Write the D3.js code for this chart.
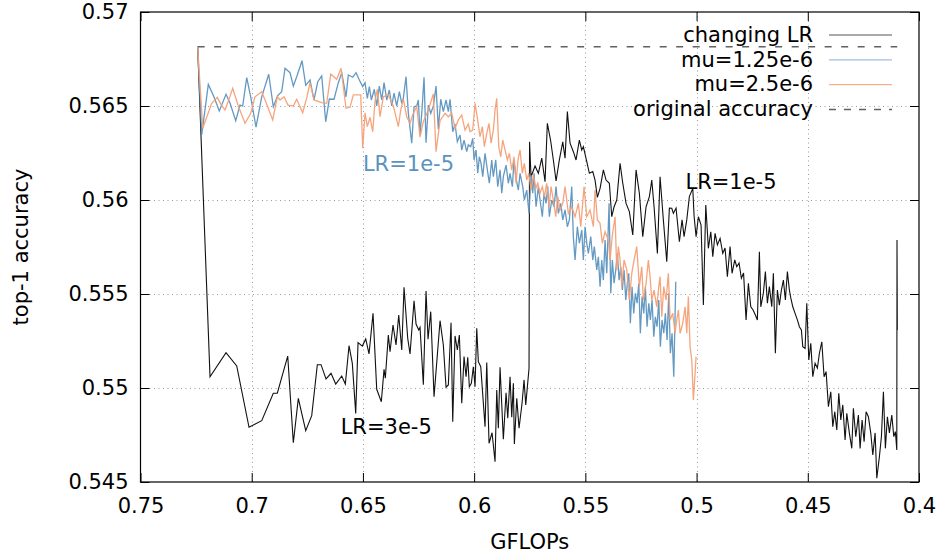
<!DOCTYPE html>
<html><head><meta charset="utf-8">
<script src="https://cdn.jsdelivr.net/npm/d3@7"></script>
<style>
html,body{margin:0;padding:0;background:#fff;}
svg{display:block;font-family:"DejaVu Sans",sans-serif;}
</style></head>
<body>
<svg id="chart" width="941" height="556"></svg>
<script>
// ---- data ----
const xTicks = [0.75, 0.7, 0.65, 0.6, 0.55, 0.5, 0.45, 0.4];
const xTickLabels = ["0.75", "0.7", "0.65", "0.6", "0.55", "0.5", "0.45", "0.4"];
const yTicks = [0.545, 0.55, 0.555, 0.56, 0.565, 0.57];
const yTickLabels = ["0.545", "0.55", "0.555", "0.56", "0.565", "0.57"];
const seriesNames = ["changing LR", "mu=1.25e-6", "mu=2.5e-6", "original accuracy"];
const originalAccuracy = 0.56815;
const originalRange = [0.7243, 0.4098];

const changingLR = [[0.7243,0.56815],[0.71875,0.55060],[0.71156,0.55188],[0.70674,0.55117],[0.70121,0.54791],[0.69550,0.54826],[0.69029,0.54972],[0.68849,0.54972],[0.68381,0.55170],[0.68129,0.54709],[0.67905,0.54945],[0.67572,0.54773],[0.67302,0.54853],[0.67050,0.55124],[0.66884,0.55124],[0.66659,0.55048],[0.66434,0.55078],[0.66223,0.55021],[0.65953,0.55064],[0.65791,0.55021],[0.65625,0.55225],[0.65477,0.55131],[0.65324,0.54865],[0.65220,0.55241],[0.65027,0.55223],[0.64874,0.55261],[0.64726,0.55181],[0.64546,0.55397],[0.64380,0.54993],[0.64173,0.54927],[0.64051,0.55099],[0.63993,0.55052],[0.63858,0.55282],[0.63782,0.55193],[0.63647,0.55335],[0.63512,0.55229],[0.63390,0.55388],[0.63255,0.55202],[0.63152,0.55536],[0.62986,0.55264],[0.62882,0.55181],[0.62702,0.55464],[0.62612,0.55340],[0.62491,0.55309],[0.62433,0.55323],[0.62284,0.55018],[0.62163,0.55516],[0.62073,0.55259],[0.61951,0.55406],[0.61803,0.54954],[0.61533,0.55358],[0.61385,0.55229],[0.61263,0.55004],[0.61160,0.55016],[0.61039,0.55347],[0.60962,0.54821],[0.60859,0.55277],[0.60755,0.55202],[0.60665,0.55282],[0.60557,0.54919],[0.60454,0.55167],[0.60364,0.55060],[0.60288,0.55163],[0.60216,0.55007],[0.60126,0.55025],[0.60036,0.55113],[0.59960,0.55007],[0.59883,0.55318],[0.59811,0.55140],[0.59703,0.55113],[0.59510,0.54794],[0.59433,0.55135],[0.59330,0.54706],[0.59195,0.54762],[0.59060,0.54608],[0.58984,0.54989],[0.58912,0.54786],[0.58835,0.55110],[0.58687,0.54727],[0.58565,0.54975],[0.58489,0.54839],[0.58386,0.55060],[0.58309,0.54844],[0.58237,0.55025],[0.58192,0.54702],[0.58084,0.54945],[0.57981,0.54786],[0.57846,0.54919],[0.57756,0.55043],[0.57680,0.54910],[0.57532,0.55105],[0.57509,0.56310],[0.57442,0.56124],[0.57262,0.56181],[0.57113,0.56142],[0.56960,0.56223],[0.56812,0.56097],[0.56709,0.56408],[0.56565,0.56319],[0.56439,0.56213],[0.56317,0.56101],[0.56169,0.56213],[0.56016,0.56309],[0.55913,0.56222],[0.55809,0.56470],[0.55688,0.56302],[0.55539,0.56257],[0.55418,0.56213],[0.55270,0.56319],[0.55162,0.56266],[0.55090,0.56284],[0.54937,0.56204],[0.54820,0.56142],[0.54667,0.56151],[0.54564,0.56106],[0.54460,0.56014],[0.54338,0.56062],[0.54190,0.56160],[0.54069,0.56106],[0.53921,0.56089],[0.53813,0.55911],[0.53709,0.55964],[0.53588,0.56000],[0.53440,0.56195],[0.53318,0.56089],[0.53170,0.55982],[0.53022,0.55938],[0.52869,0.55814],[0.52720,0.56160],[0.52572,0.56036],[0.52419,0.55805],[0.52271,0.55964],[0.52122,0.56018],[0.52014,0.56106],[0.51911,0.55964],[0.51762,0.55716],[0.51641,0.56124],[0.51493,0.55894],[0.51340,0.55672],[0.51222,0.55957],[0.51115,0.55956],[0.51043,0.55929],[0.50922,0.55957],[0.50773,0.55778],[0.50652,0.55894],[0.50562,0.55805],[0.50441,0.55894],[0.50324,0.56018],[0.50171,0.56062],[0.50112,0.55915],[0.50022,0.55805],[0.49919,0.55911],[0.49798,0.55867],[0.49694,0.55441],[0.49586,0.55973],[0.49470,0.55743],[0.49361,0.55831],[0.49271,0.55698],[0.49168,0.55823],[0.49065,0.55761],[0.48943,0.55796],[0.48822,0.55716],[0.48719,0.55745],[0.48615,0.55592],[0.48494,0.55752],[0.48404,0.55610],[0.48283,0.55681],[0.48193,0.55645],[0.48090,0.55665],[0.47986,0.55584],[0.47887,0.55612],[0.47775,0.55362],[0.47671,0.55557],[0.47563,0.55432],[0.47460,0.55415],[0.47357,0.55388],[0.47267,0.55362],[0.47176,0.55725],[0.47113,0.55432],[0.46997,0.55504],[0.46906,0.55619],[0.46816,0.55451],[0.46727,0.55539],[0.46619,0.55432],[0.46547,0.55610],[0.46457,0.55185],[0.46367,0.55521],[0.46277,0.55441],[0.46187,0.55521],[0.46097,0.55574],[0.46007,0.55468],[0.45917,0.55619],[0.45827,0.55521],[0.45764,0.55479],[0.45674,0.55432],[0.45571,0.55397],[0.45468,0.55362],[0.45378,0.55326],[0.45288,0.55309],[0.45225,0.55220],[0.45121,0.55211],[0.45045,0.55451],[0.44955,0.55149],[0.44865,0.55238],[0.44775,0.55060],[0.44672,0.55131],[0.44568,0.55106],[0.44478,0.55185],[0.44370,0.55246],[0.44267,0.55060],[0.44177,0.55087],[0.44073,0.54901],[0.43966,0.54980],[0.43876,0.54794],[0.43786,0.54874],[0.43696,0.54777],[0.43606,0.54972],[0.43516,0.54830],[0.43426,0.54910],[0.43323,0.54723],[0.43246,0.54865],[0.43129,0.54759],[0.43022,0.54679],[0.42950,0.54892],[0.42842,0.54741],[0.42725,0.54856],[0.42648,0.54679],[0.42558,0.54830],[0.42468,0.54714],[0.42378,0.54874],[0.42275,0.54847],[0.42167,0.54759],[0.42077,0.54644],[0.41973,0.54761],[0.41897,0.54520],[0.41780,0.54635],[0.41690,0.54741],[0.41600,0.54980],[0.41511,0.54679],[0.41421,0.54847],[0.41331,0.54761],[0.41223,0.54856],[0.41133,0.54741],[0.41061,0.54768],[0.40998,0.54670],[0.40989,0.55787],[0.40975,0.55309]];

const mu125 = [[0.7243,0.56815],[0.72248,0.56346],[0.71951,0.56615],[0.71695,0.56548],[0.71457,0.56473],[0.71156,0.56562],[0.70976,0.56516],[0.70719,0.56422],[0.70526,0.56505],[0.70405,0.56500],[0.70225,0.56651],[0.70045,0.56549],[0.69807,0.56387],[0.69550,0.56549],[0.69236,0.56669],[0.69029,0.56496],[0.68831,0.56555],[0.68651,0.56576],[0.68503,0.56701],[0.68278,0.56677],[0.68129,0.56606],[0.67977,0.56656],[0.67738,0.56741],[0.67572,0.56610],[0.67379,0.56638],[0.67199,0.56532],[0.67032,0.56629],[0.66853,0.56660],[0.66673,0.56416],[0.66511,0.56537],[0.66300,0.56536],[0.66106,0.56624],[0.65953,0.56677],[0.65760,0.56549],[0.65656,0.56665],[0.65459,0.56653],[0.65310,0.56677],[0.65162,0.56638],[0.65009,0.56603],[0.64906,0.56624],[0.64802,0.56541],[0.64712,0.56603],[0.64622,0.56532],[0.64487,0.56589],[0.64380,0.56500],[0.64263,0.56606],[0.64155,0.56532],[0.64051,0.56624],[0.63930,0.56532],[0.63813,0.56585],[0.63705,0.56500],[0.63602,0.56568],[0.63480,0.56500],[0.63363,0.56576],[0.63255,0.56514],[0.63184,0.56541],[0.63062,0.56656],[0.62958,0.56461],[0.62806,0.56302],[0.62702,0.56496],[0.62581,0.56500],[0.62509,0.56532],[0.62433,0.56346],[0.62343,0.56482],[0.62253,0.56653],[0.62163,0.56305],[0.62059,0.56505],[0.61951,0.56461],[0.61834,0.56500],[0.61713,0.56606],[0.61610,0.56376],[0.61502,0.56536],[0.61385,0.56470],[0.61263,0.56532],[0.61160,0.56470],[0.61084,0.56536],[0.60962,0.56363],[0.60859,0.56404],[0.60755,0.56310],[0.60634,0.56346],[0.60558,0.56266],[0.60454,0.56319],[0.60333,0.56257],[0.60261,0.56293],[0.60153,0.56284],[0.60063,0.56328],[0.60004,0.56213],[0.59915,0.56266],[0.59838,0.56142],[0.59766,0.56230],[0.59690,0.56195],[0.59613,0.56124],[0.59510,0.56248],[0.59406,0.56160],[0.59317,0.56089],[0.59209,0.56213],[0.59137,0.56124],[0.59029,0.56213],[0.58939,0.56071],[0.58835,0.56160],[0.58759,0.56036],[0.58687,0.56124],[0.58566,0.56186],[0.58462,0.56089],[0.58386,0.56142],[0.58282,0.56071],[0.58206,0.56213],[0.58116,0.56115],[0.58013,0.56053],[0.57936,0.56142],[0.57815,0.56071],[0.57743,0.56000],[0.57635,0.56053],[0.57532,0.55929],[0.57442,0.56133],[0.57365,0.56036],[0.57307,0.56142],[0.57217,0.55964],[0.57113,0.56071],[0.57037,0.56000],[0.56934,0.55911],[0.56857,0.56036],[0.56767,0.55982],[0.56691,0.56071],[0.56619,0.55911],[0.56511,0.56000],[0.56407,0.55964],[0.56317,0.56071],[0.56214,0.55929],[0.56106,0.55982],[0.56016,0.55894],[0.55913,0.55947],[0.55809,0.55858],[0.55719,0.55894],[0.55612,0.56071],[0.55540,0.55805],[0.55463,0.55681],[0.55360,0.55858],[0.55270,0.55770],[0.55162,0.55840],[0.55090,0.55681],[0.55013,0.55858],[0.54937,0.55770],[0.54865,0.55716],[0.54757,0.55805],[0.54667,0.55681],[0.54595,0.55752],[0.54487,0.55628],[0.54415,0.55698],[0.54339,0.55539],[0.54263,0.55681],[0.54191,0.55574],[0.54114,0.55787],[0.54038,0.55610],[0.53934,0.55982],[0.53858,0.55504],[0.53786,0.55681],[0.53710,0.55557],[0.53633,0.55628],[0.53561,0.55716],[0.53485,0.55574],[0.53408,0.55645],[0.53336,0.55521],[0.53260,0.55628],[0.53183,0.55468],[0.53112,0.55557],[0.53049,0.55610],[0.52977,0.55344],[0.52900,0.55539],[0.52824,0.55397],[0.52752,0.55504],[0.52675,0.55451],[0.52599,0.55557],[0.52527,0.55291],[0.52450,0.55486],[0.52374,0.55397],[0.52302,0.55539],[0.52226,0.55326],[0.52149,0.55451],[0.52077,0.55362],[0.52001,0.55468],[0.51924,0.55273],[0.51853,0.55379],[0.51776,0.55326],[0.51700,0.55468],[0.51628,0.55220],[0.51551,0.55362],[0.51475,0.55291],[0.51403,0.55397],[0.51326,0.55255],[0.51250,0.55504],[0.51178,0.55185],[0.51102,0.55291],[0.51025,0.55060],[0.50935,0.55565]];

const mu25 = [[0.7243,0.56815],[0.72203,0.56381],[0.71799,0.56514],[0.71547,0.56546],[0.71367,0.56505],[0.71200,0.56479],[0.71034,0.56532],[0.70854,0.56594],[0.70603,0.56500],[0.70301,0.56408],[0.70045,0.56461],[0.69852,0.56549],[0.69550,0.56576],[0.69312,0.56505],[0.69056,0.56426],[0.68849,0.56549],[0.68727,0.56532],[0.68548,0.56549],[0.68368,0.56505],[0.68130,0.56500],[0.67977,0.56536],[0.67707,0.56464],[0.67527,0.56543],[0.67379,0.56624],[0.67199,0.56532],[0.66853,0.56518],[0.66628,0.56514],[0.66448,0.56670],[0.66178,0.56642],[0.65985,0.56701],[0.65760,0.56488],[0.65580,0.56493],[0.65432,0.56559],[0.65207,0.56559],[0.65099,0.56559],[0.65009,0.56275],[0.64906,0.56464],[0.64802,0.56390],[0.64681,0.56440],[0.64559,0.56363],[0.64456,0.56528],[0.64353,0.56589],[0.64231,0.56443],[0.64083,0.56549],[0.63858,0.56559],[0.63633,0.56500],[0.63408,0.56390],[0.63300,0.56479],[0.63183,0.56536],[0.63031,0.56443],[0.62882,0.56408],[0.62734,0.56461],[0.62581,0.56496],[0.62432,0.56334],[0.62284,0.56417],[0.62059,0.56479],[0.61835,0.56564],[0.61713,0.56257],[0.61533,0.56422],[0.61308,0.56461],[0.61160,0.56443],[0.61007,0.56461],[0.60859,0.56381],[0.60710,0.56426],[0.60558,0.56452],[0.60409,0.56372],[0.60261,0.56404],[0.60184,0.56363],[0.60063,0.56372],[0.59960,0.56514],[0.59856,0.56435],[0.59735,0.56337],[0.59631,0.56390],[0.59541,0.56284],[0.59433,0.56355],[0.59330,0.56408],[0.59240,0.56302],[0.59137,0.56372],[0.59060,0.56479],[0.58984,0.56541],[0.58894,0.56284],[0.58804,0.56230],[0.58714,0.56319],[0.58610,0.56266],[0.58507,0.56213],[0.58417,0.56248],[0.58309,0.56160],[0.58206,0.56230],[0.58116,0.56089],[0.58026,0.56213],[0.57936,0.56266],[0.57833,0.56142],[0.57743,0.56195],[0.57635,0.56106],[0.57545,0.56142],[0.57442,0.56053],[0.57338,0.56133],[0.57230,0.56062],[0.57140,0.56089],[0.57037,0.56036],[0.56934,0.56071],[0.56844,0.56018],[0.56736,0.56089],[0.56632,0.55964],[0.56542,0.56071],[0.56439,0.56000],[0.56331,0.55911],[0.56241,0.56018],[0.56138,0.55947],[0.56016,0.55982],[0.55913,0.56071],[0.55764,0.55929],[0.55612,0.55964],[0.55463,0.55911],[0.55315,0.55982],[0.55207,0.55858],[0.55059,0.56071],[0.54937,0.55911],[0.54789,0.55947],[0.54640,0.55858],[0.54564,0.56053],[0.54460,0.55894],[0.54339,0.55876],[0.54236,0.55770],[0.54114,0.55831],[0.53966,0.55787],[0.53889,0.55681],[0.53786,0.55814],[0.53664,0.55911],[0.53588,0.55628],[0.53516,0.55752],[0.53440,0.55681],[0.53363,0.55539],[0.53260,0.55681],[0.53138,0.55628],[0.53022,0.55468],[0.52914,0.55610],[0.52810,0.55681],[0.52689,0.55752],[0.52572,0.55539],[0.52464,0.55645],[0.52392,0.55468],[0.52271,0.55557],[0.52167,0.55681],[0.52091,0.55592],[0.52014,0.55468],[0.51911,0.55521],[0.51790,0.55432],[0.51700,0.55539],[0.51641,0.55592],[0.51565,0.55379],[0.51475,0.55539],[0.51371,0.55468],[0.51268,0.55610],[0.51191,0.55362],[0.51070,0.55397],[0.50967,0.55291],[0.50890,0.55362],[0.50818,0.55415],[0.50742,0.55291],[0.50620,0.55344],[0.50517,0.55432],[0.50441,0.55291],[0.50369,0.55486],[0.50292,0.55220],[0.50216,0.55149],[0.50144,0.54936],[0.50067,0.55078],[0.50022,0.55167]];

// ---- layout ----
const plot = {left: 140.5, right: 919, top: 12, bottom: 482};
const FS = 21;
const colors = {black: "#111111", blue: "#5b93bf", orange: "#f4a077", dash: "#606060", grid: "#9a9a9a"};

const svg = d3.select("#chart");
const x = d3.scaleLinear().domain([xTicks[0], xTicks[xTicks.length - 1]]).range([plot.left, plot.right]);
const y = d3.scaleLinear().domain([yTicks[0], yTicks[yTicks.length - 1]]).range([plot.bottom, plot.top]);

// grid
const grid = svg.append("g").attr("stroke", colors.grid).attr("stroke-width", 1).attr("stroke-dasharray", "1,3.5");
grid.selectAll("line.gx").data(xTicks.slice(1, -1)).join("line")
  .attr("x1", d => Math.round(x(d)) + 0.5).attr("x2", d => Math.round(x(d)) + 0.5)
  .attr("y1", plot.top).attr("y2", plot.bottom);
grid.selectAll("line.gy").data(yTicks.slice(1, -1)).join("line")
  .attr("y1", d => Math.round(y(d)) + 0.5).attr("y2", d => Math.round(y(d)) + 0.5)
  .attr("x1", plot.left).attr("x2", plot.right);

// axes
const fmtX = d => xTickLabels[xTicks.indexOf(d)];
const fmtY = d => yTickLabels[yTicks.indexOf(d)];
function styleAxis(g) {
  g.select(".domain").remove();
  g.selectAll(".tick line").attr("stroke", "#000").attr("stroke-width", 1);
  g.selectAll(".tick text").attr("fill", "#000").style("font-size", FS + "px").style("font-family", "DejaVu Sans");
}
svg.append("g").attr("transform", `translate(0,${plot.bottom})`)
  .call(d3.axisBottom(x).tickValues(xTicks).tickFormat(fmtX).tickSizeInner(-9).tickSizeOuter(0).tickPadding(16))
  .call(styleAxis);
svg.append("g").attr("transform", `translate(0,${plot.top})`)
  .call(d3.axisTop(x).tickValues(xTicks).tickFormat("").tickSizeInner(-9).tickSizeOuter(0))
  .call(styleAxis);
svg.append("g").attr("transform", `translate(${plot.left},0)`)
  .call(d3.axisLeft(y).tickValues(yTicks).tickFormat(fmtY).tickSizeInner(-9).tickSizeOuter(0).tickPadding(12))
  .call(styleAxis);
svg.append("g").attr("transform", `translate(${plot.right},0)`)
  .call(d3.axisRight(y).tickValues(yTicks).tickFormat("").tickSizeInner(-9).tickSizeOuter(0))
  .call(styleAxis);

// border
svg.append("rect").attr("x", plot.left).attr("y", plot.top)
  .attr("width", plot.right - plot.left).attr("height", plot.bottom - plot.top)
  .attr("fill", "none").attr("stroke", "#000").attr("stroke-width", 1.2);

// axis titles
svg.append("text").attr("x", (plot.left + plot.right) / 2).attr("y", 549)
  .attr("text-anchor", "middle").style("font-size", FS + "px").text("GFLOPs");
svg.append("text").attr("transform", `translate(28,${(plot.top + plot.bottom) / 2}) rotate(-90)`)
  .attr("text-anchor", "middle").style("font-size", FS + "px").text("top-1 accuracy");

// lines
const line = d3.line().x(d => x(d[0])).y(d => y(d[1]));
const plotG = svg.append("g");
plotG.append("path").datum(originalRange.map(g => [g, originalAccuracy])).attr("d", line)
  .attr("fill", "none").attr("stroke", colors.dash).attr("stroke-width", 1.5).attr("stroke-dasharray", "7,9.5");
plotG.append("path").datum(changingLR).attr("d", line)
  .attr("fill", "none").attr("stroke", colors.black).attr("stroke-width", 1.1);
plotG.append("path").datum(mu125).attr("d", line)
  .attr("fill", "none").attr("stroke", colors.blue).attr("stroke-width", 1.3).attr("stroke-opacity", 0.95);
plotG.append("path").datum(mu25).attr("d", line)
  .attr("fill", "none").attr("stroke", colors.orange).attr("stroke-width", 1.3).attr("stroke-opacity", 0.95);

// annotations
svg.append("text").attr("x", x(0.65)).attr("y", y(0.562)).attr("dy", "0.42em")
  .style("font-size", FS + "px").attr("fill", colors.blue).text("LR=1e-5");
svg.append("text").attr("x", x(0.505)).attr("y", y(0.561)).attr("dy", "0.38em")
  .style("font-size", FS + "px").attr("fill", "#000").text("LR=1e-5");
svg.append("text").attr("x", x(0.66)).attr("y", y(0.548)).attr("dy", "0.38em")
  .style("font-size", FS + "px").attr("fill", "#000").text("LR=3e-5");

// legend
const legendStyles = [
  {stroke: "#555", dash: null, w: 1.2},
  {stroke: "#9fc0dc", dash: null, w: 1.2},
  {stroke: "#f6b08c", dash: null, w: 1.2},
  {stroke: colors.dash, dash: "7,8", w: 1.5}
];
const leg = svg.append("g");
seriesNames.forEach((name, i) => {
  const base = 41.7 + i * 24.8;
  leg.append("text").attr("x", 813).attr("y", base).attr("text-anchor", "end")
    .style("font-size", FS + "px").attr("fill", "#000").text(name);
  leg.append("line").attr("x1", 829).attr("x2", 892).attr("y1", base - 6.7).attr("y2", base - 6.7)
    .attr("stroke", legendStyles[i].stroke).attr("stroke-width", legendStyles[i].w)
    .attr("stroke-dasharray", legendStyles[i].dash);
});
</script>
</body></html>
